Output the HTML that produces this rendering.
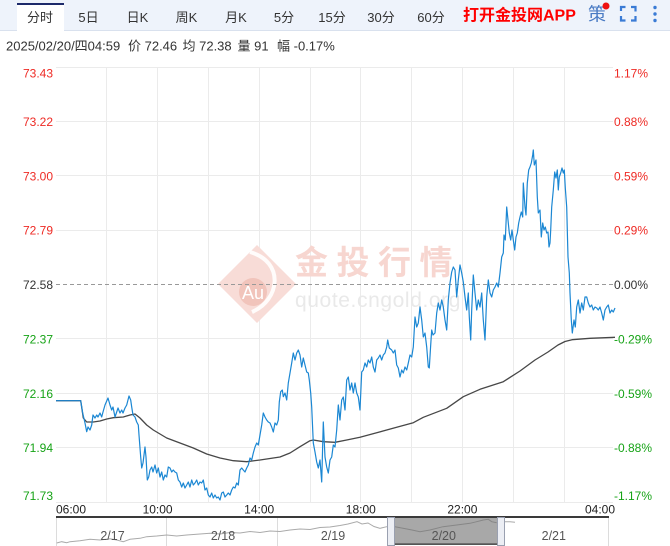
<!DOCTYPE html>
<html><head><meta charset="utf-8"><style>
html,body{margin:0;padding:0;background:#fff;width:670px;height:546px;overflow:hidden}
svg{display:block}
text{font-family:"Liberation Sans","Noto Sans CJK SC",sans-serif}
</style></head><body>
<svg width="670" height="546" viewBox="0 0 670 546" xmlns="http://www.w3.org/2000/svg">
<!-- header -->
<rect x="0" y="0" width="670" height="30" fill="#eef3fb"/>
<line x1="0" y1="30.5" x2="670" y2="30.5" stroke="#d9e1ee"/>
<rect x="17" y="3" width="47" height="28" fill="#fff"/>
<rect x="17" y="3" width="47" height="2" fill="#1d2a6a"/>
<g font-size="13" fill="#333" text-anchor="middle">
<text x="40" y="22">分时</text>
<text x="88.5" y="22">5日</text>
<text x="137.5" y="22">日K</text>
<text x="186.5" y="22">周K</text>
<text x="236" y="22">月K</text>
<text x="284" y="22">5分</text>
<text x="332" y="22">15分</text>
<text x="381" y="22">30分</text>
<text x="431" y="22">60分</text>
</g>
<text x="463" y="20.5" font-size="16" font-weight="bold" fill="#ff0000">打开金投网APP</text>
<text x="588" y="20.5" font-size="18" fill="#4a7bc4">策</text>
<circle cx="606" cy="6" r="3.5" fill="#ee1111"/>
<g stroke="#3a7bd5" stroke-width="2.2" fill="none">
<path d="M621 11V7h4.5M631 7h4.5v4.5M635.5 16v4.5H631M625.5 20.5H621V16"/>
</g>
<g fill="#3a7bd5"><circle cx="655" cy="7.5" r="1.7"/><circle cx="655" cy="14" r="1.7"/><circle cx="655" cy="20.5" r="1.7"/></g>

<!-- info line -->
<g font-size="13" fill="#333">
<text x="6" y="50.5">2025/02/20/四04:59</text>
<text x="128" y="50.5">价 72.46</text>
<text x="182.5" y="50.5">均 72.38</text>
<text x="237.5" y="50.5">量 91</text>
<text x="277" y="50.5">幅 -0.17%</text>
</g>

<!-- grid -->
<g stroke="#ebebeb" stroke-width="1">
<line x1="56" y1="67.5" x2="613" y2="67.5"/>
<line x1="56" y1="121.5" x2="613" y2="121.5"/>
<line x1="56" y1="175.5" x2="613" y2="175.5"/>
<line x1="56" y1="230.5" x2="613" y2="230.5"/>
<line x1="56" y1="338.5" x2="613" y2="338.5"/>
<line x1="56" y1="393.5" x2="613" y2="393.5"/>
<line x1="56" y1="447.5" x2="613" y2="447.5"/>
<line x1="56" y1="502.5" x2="613" y2="502.5"/>
<line x1="106.5" y1="67" x2="106.5" y2="502"/>
<line x1="157.5" y1="67" x2="157.5" y2="502"/>
<line x1="208.5" y1="67" x2="208.5" y2="502"/>
<line x1="259.5" y1="67" x2="259.5" y2="502"/>
<line x1="310.5" y1="67" x2="310.5" y2="502"/>
<line x1="360.5" y1="67" x2="360.5" y2="502"/>
<line x1="411.5" y1="67" x2="411.5" y2="502"/>
<line x1="462.5" y1="67" x2="462.5" y2="502"/>
<line x1="513.5" y1="67" x2="513.5" y2="502"/>
<line x1="564.5" y1="67" x2="564.5" y2="502"/>
</g>

<!-- watermark -->
<g>
<polygon points="257,245 296,284 257,323 218,284" fill="#f8dcd7"/>
<path d="M250 252 C 285 262, 280 300, 252 312" stroke="#fff" stroke-width="4" fill="none" opacity="0.9"/>
<circle cx="253" cy="292" r="14" fill="#f1c4bb"/>
<text x="253" y="299" font-size="18" fill="#fff" text-anchor="middle">Au</text>
<text x="295" y="274" font-size="33" font-weight="bold" fill="#f7d6d0" letter-spacing="8.5">金投行情</text>
<text x="295" y="307" font-size="21" fill="#e9e9e9" letter-spacing="0.6">quote.cngold.org</text>
</g>

<line x1="56" y1="284.5" x2="613" y2="284.5" stroke="#999" stroke-dasharray="4,3"/>

<!-- average line -->
<polyline fill="none" stroke="#474747" stroke-width="1.3" stroke-linejoin="round" points="56,400.7 80.7,400.7 83.3,418 86.7,422 93.3,422 100,421 106.7,419 113.3,417.7 123.3,417 130,415 135,414 140,418 146.7,425 153.3,430 166.7,438 180,443 193.3,448 206.7,454 220,458 233.3,460.7 246.7,461.7 260,460 273.3,458 280,457 290,453 300,446.7 310,440.7 313.3,440 323.3,441.7 335,442.3 346.7,440 360,437.3 376.7,432.7 396.7,427.3 413.3,422.7 423.3,417.3 446.7,408.3 463.3,396.7 480,389.3 503.3,381.7 520,371 535,360 548,352 558,345 565,341.5 572,339.7 590,338.3 615,337.3"/>

<!-- price line -->
<polyline fill="none" stroke="#1b87d3" stroke-width="1.2" stroke-linejoin="round" points="56,400.7 80.7,400.7 82.7,413 85,423 86.7,431.7 88,427 90,430 91.7,425 93,415 95,418 96.7,415 98,417 100,413 101.7,417 103,412 105,405 108,398 110,405 111.7,410 113,407 115,417 116.7,412 118,408 120,413 121.7,410 123,413 125,408 126.7,405 129,396 130.7,400 131.7,407 133,415 135,417 136.7,422 138.3,425 139,435 140.7,457 141.7,468 143,463 145,447 146,457 147.3,480 148.7,477 150,470 151.7,467 153,472 155,465 156.7,473 158.3,468 160,477 161.7,472 163.3,480 165,475 166.7,477 168.3,467 170,468 171.7,472 173.3,470 175,472 176.7,473 178.3,480 180,482 181.7,487 183.3,483 185,488 186.7,485 188.3,482 190,487 191.7,480 193.3,485 195,483 196.7,480 198.3,485 200,482 201.7,483 203.3,480 205,490 206.7,488 208.3,495 210,497 211.7,493 213.3,498 215,495 216.7,498 218.3,497 220,500 221.7,493 223.3,492 225,497 226.7,495 228.3,493 230,495 231.7,490 233.3,487 235,488 236.7,483 238.3,485 240,470 241.7,468 243.3,470 245,472 246.7,468 248.3,465 250,458 251.7,460 253.3,453 255,447 256.7,443 258.3,445 260,435 261.7,425 263.3,413 265,417 266.7,420 268.3,422 270,423 271.7,427 273.3,432 275,423 276.7,425 278.3,420 279.3,402 280.7,391.7 282.3,390 283.3,396.7 285,393 286.7,400 288.3,383 290,373 291.7,363 293.3,353 295,360 296.7,353 298.3,350 300,355 301.7,367 303.3,358 305,365 306.7,372 308.3,373 309.3,380 310.7,393 311.7,407 313.3,443 315,452 316.7,462 318.3,468 320,460 321.7,482 323.3,422 325,457 326.7,467 328.3,473 330,460 331.7,457 333.3,445 335,447 336.7,430 338.3,405 340,420 341.7,400 343.3,397 345,410 346.7,380 348.3,377 350,390 351.7,383 353.3,393 355,383 356.7,393 358.3,397 360,410 361.7,372 363.3,370 365,363 366.7,367 368.3,360 370,363 371.7,357 373.3,367 375,372 376.7,360 378.3,358 380,355 381.7,360 383.3,355 385,353 386.7,347 387.7,340 389.3,348 391.7,350 393.3,353 395,350 396.7,365 398.3,368 400,377 401.7,370 403.3,373 405,367 406.7,370 408.3,363 410,355 411.7,357 413.3,347 415,317 416.7,327 418.3,323 420,307 421.7,320 423.3,337 425,333 426.7,347 428.3,367 429.3,368 430.7,345 431.7,330 433,335 435,333 436.7,313 438.3,303 440,310 441.7,300 443.3,307 445,320 446.7,330 448.3,300 450,283 451.7,272 453.3,267 455,270 456.7,297 458.3,280 460,265 461.7,273 463.3,282 465,297 466.7,310 468.3,293 469.3,317 470.7,340 471.7,310 473.3,275 475,293 476.7,310 478.3,300 480,307 481.7,293 483.3,320 485,340 486.7,297 488.3,280 490,293 491.7,297 493.3,290 495,287 496.7,283 498.3,287 500,273 501.7,257 503.3,253 504,235 505.3,240 506.7,207 508,220 509.3,233 510.7,240 512,230 513.3,240 514.7,250 516,237 517.3,233 518.7,223 520,217 521.3,212 522.7,217 523.3,183 525,207 526,215 527.3,183 528.7,170 530,167 531.3,163 532.7,155 533.3,150 534.3,165 536,160 537.3,197 538.3,213 540,210 541.3,237 542.7,223 544,230 545.3,227 546.7,233 548,232 549,247 550,243 550.7,230 551.7,207 553.3,190 554.7,172 556,178 557.3,170 558.3,190 559.3,177 560.7,173 562,168 563.3,173 564.3,170 565.3,188 566.7,207 568,257 569.3,273 570,293 571.3,320 572.3,333 574,320 575.3,327 576.7,307 578.3,300 580,313 581.7,303 583.3,310 585,297 586.7,297 588.3,303 590,307 591.7,305 593.3,310 595,307 596.7,308 598.3,310 600,307 601.7,313 603.3,320 605,310 606.7,307 608.3,305 610,313 611.7,310 613.3,312 615,308"/>

<!-- y labels -->
<g font-size="12" text-anchor="end">
<text x="53" y="77.7" fill="#ee2a24">73.43</text>
<text x="53" y="126" fill="#ee2a24">73.22</text>
<text x="53" y="180.3" fill="#ee2a24">73.00</text>
<text x="53" y="234.6" fill="#ee2a24">72.79</text>
<text x="53" y="289" fill="#333">72.58</text>
<text x="53" y="343.4" fill="#16a316">72.37</text>
<text x="53" y="397.8" fill="#16a316">72.16</text>
<text x="53" y="452.1" fill="#16a316">71.94</text>
<text x="53" y="500" fill="#16a316">71.73</text>
</g>
<g font-size="12">
<text x="614" y="77.7" fill="#ee2a24">1.17%</text>
<text x="614" y="126" fill="#ee2a24">0.88%</text>
<text x="614" y="180.3" fill="#ee2a24">0.59%</text>
<text x="614" y="234.6" fill="#ee2a24">0.29%</text>
<text x="614" y="289" fill="#333">0.00%</text>
<text x="614" y="343.4" fill="#16a316">-0.29%</text>
<text x="614" y="397.8" fill="#16a316">-0.59%</text>
<text x="614" y="452.1" fill="#16a316">-0.88%</text>
<text x="614" y="500" fill="#16a316">-1.17%</text>
</g>

<!-- x labels -->
<g font-size="12" fill="#222">
<text x="56" y="513.3">06:00</text>
<text x="157.6" y="513.3" text-anchor="middle">10:00</text>
<text x="259.2" y="513.3" text-anchor="middle">14:00</text>
<text x="360.8" y="513.3" text-anchor="middle">18:00</text>
<text x="462.4" y="513.3" text-anchor="middle">22:00</text>
<text x="615" y="513.3" text-anchor="end">04:00</text>
</g>

<!-- navigator -->
<g stroke="#dcdcdc" stroke-width="1">
<line x1="56.5" y1="518" x2="56.5" y2="546"/>
<line x1="608.5" y1="518" x2="608.5" y2="546"/>
<line x1="166.5" y1="518" x2="166.5" y2="546"/>
<line x1="277.5" y1="518" x2="277.5" y2="546"/>
<line x1="387.5" y1="518" x2="387.5" y2="546"/>
<line x1="498.5" y1="518" x2="498.5" y2="546"/>
</g>
<polyline fill="none" stroke="#aaa" stroke-width="1" points="56.7,543 61.7,541.7 66.7,542.7 70,541.7 80,540.7 90,539.3 100,540 110,538.7 116.7,540 123.3,541.7 130,539.3 140,538.3 146.7,536.7 156.7,536 166.7,535 176.7,536 186.7,535 196.7,534.3 210,533.3 220,534 230,532.5 240,533 250,531.5 260,532.5 270,531 280,531.5 290,530 300,529 310,529.5 320,527.5 330,527 340,525.5 348,524 357,521.7 362,524 368,523 374,526.5 380,528.3 386.7,526.7 395,526.7 403,528.3 412,530 420,531.7 430,530 443,526.7 456.7,525 470,523.3 476.7,521.7 483.3,520 488.3,519.3 491.7,521.7 496.7,522.7"/>
<polyline fill="none" stroke="#aaa" stroke-width="1" points="505,521.7 510,521.7 515,522.3"/>
<rect x="395" y="518" width="102" height="26" fill="#6e6e6e" opacity="0.6"/>
<rect x="387" y="543.3" width="118" height="1.7" fill="#555"/>
<rect x="56" y="516" width="553" height="2" fill="#3a3a3a"/>
<rect x="387.5" y="517.5" width="7" height="28" fill="#eceef4" stroke="#9aa0b0"/>
<rect x="497.5" y="517.5" width="7" height="28" fill="#eceef4" stroke="#9aa0b0"/>
<g font-size="12.5" fill="#555" text-anchor="middle">
<text x="112.5" y="540">2/17</text>
<text x="223" y="540">2/18</text>
<text x="333" y="540">2/19</text>
<text x="443.8" y="540">2/20</text>
<text x="553.8" y="540">2/21</text>
</g>
</svg>
</body></html>
